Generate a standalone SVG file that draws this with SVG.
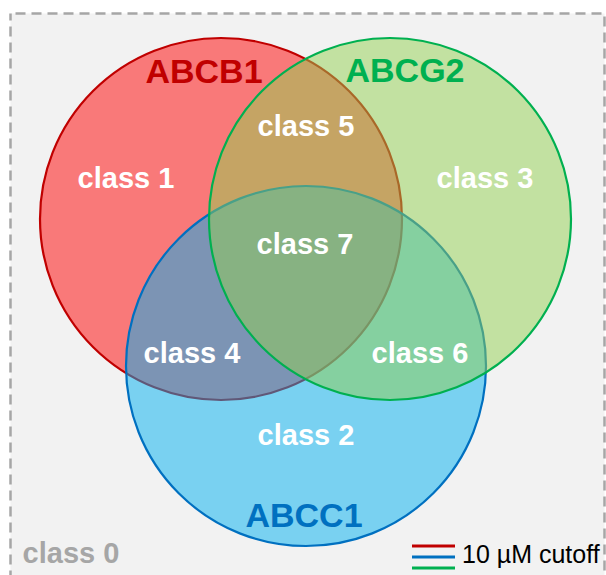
<svg xmlns="http://www.w3.org/2000/svg" width="606" height="575" viewBox="0 0 606 575">
<style>
.set{stroke-width:2.2}
.lbl{font-family:"Liberation Sans",Arial,sans-serif;font-weight:bold;font-size:29px;fill:#fff;text-anchor:middle}
.name{font-family:"Liberation Sans",Arial,sans-serif;font-weight:bold;font-size:34px;text-anchor:middle}
</style>
<rect x="0" y="0" width="606" height="575" fill="#ffffff"/>
<rect id="frame" x="10.5" y="13.5" width="594" height="580" fill="#f2f2f2" stroke="#a6a6a6" stroke-width="2.5" stroke-dasharray="10 6" stroke-dashoffset="-5"/>
<g id="ABCB1">
<circle class="set" cx="221" cy="219" r="181" fill="#ff0000" fill-opacity="0.5" stroke="#c00000"/>
</g>
<g id="ABCC1">
<circle class="set" cx="306" cy="366" r="180" fill="#00b0f0" fill-opacity="0.5" stroke="#0070c0"/>
</g>
<g id="ABCG2">
<circle class="set" cx="390" cy="219" r="181" fill="#92d050" fill-opacity="0.5" stroke="#00b050"/>
</g>
<g id="names">
<text class="name" x="204" y="83" fill="#c00000">ABCB1</text>
<text class="name" x="405" y="82" fill="#00b050">ABCG2</text>
<text class="name" x="304" y="527" fill="#0070c0">ABCC1</text>
</g>
<g id="classes">
<text class="lbl" x="126" y="188">class 1</text>
<text class="lbl" x="306" y="136">class 5</text>
<text class="lbl" x="485" y="188">class 3</text>
<text class="lbl" x="305" y="254">class 7</text>
<text class="lbl" x="192" y="363">class 4</text>
<text class="lbl" x="420" y="363">class 6</text>
<text class="lbl" x="306" y="445">class 2</text>
<text class="lbl" x="71" y="563" style="fill:#a6a6a6">class 0</text>
</g>
<g id="legend">
<line x1="412" y1="546" x2="455" y2="546" stroke="#c00000" stroke-width="2.8"/>
<line x1="412" y1="557" x2="455" y2="557" stroke="#0070c0" stroke-width="2.8"/>
<line x1="412" y1="568" x2="455" y2="568" stroke="#00b050" stroke-width="2.8"/>
<text x="462" y="563" font-family="Liberation Sans,Arial,sans-serif" font-size="25" fill="#000">10 µM cutoff</text>
</g>
</svg>
